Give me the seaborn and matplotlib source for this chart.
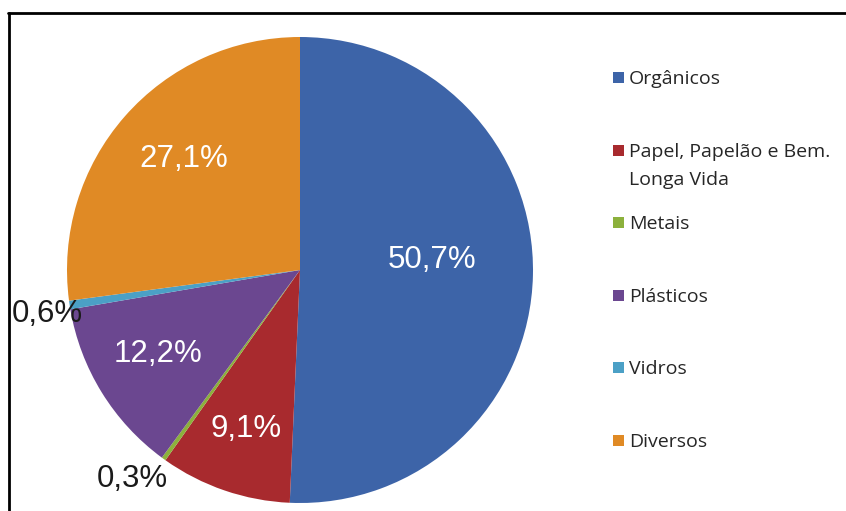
import matplotlib
matplotlib.use("Agg")
import matplotlib.pyplot as plt
import numpy as np
import seaborn as sns
from matplotlib.patches import Rectangle
from matplotlib.lines import Line2D

# Composition of collected waste (share of total, %)
categories = ["Orgânicos", "Papel, Papelão e Bem.\nLonga Vida", "Metais",
              "Plásticos", "Vidros", "Diversos"]
shares = [50.7, 9.1, 0.3, 12.2, 0.6, 27.1]
value_labels = ["50,7%", "9,1%", "0,3%", "12,2%", "0,6%", "27,1%"]

palette = ["#3D64A8", "#A82A2E", "#8CB13C", "#6B4790", "#4BA0C6", "#E08A25"]
label_colors = ["white", "white", "#1a1a1a", "white", "#1a1a1a", "white"]
label_radius = [0.57, 0.72, 1.15, 0.71, 1.10, 0.69]
label_shift = [5.6, 0.0, -3.0, -1.0, 1.3, -2.3]

sns.set_theme(style="white")
plt.rcParams["font.family"] = ["Liberation Sans", "DejaVu Sans"]

W, H = 846, 511
fig = plt.figure(figsize=(W / 100, H / 100), dpi=100)
fig.patch.set_facecolor("white")

# pie placed by pixel centre and radius
cx, cy, r = 300, 270, 233
ax = fig.add_axes([(cx - r) / W, (H - cy - r) / H, 2 * r / W, 2 * r / H])
wedges, _ = ax.pie(shares, colors=palette, startangle=90, counterclock=False,
                   radius=1, wedgeprops=dict(linewidth=0))
ax.set_xlim(-1, 1)
ax.set_ylim(-1, 1)
ax.set_aspect("equal")
ax.axis("off")

for w, txt, col, rr, sh in zip(wedges, value_labels, label_colors,
                               label_radius, label_shift):
    mid = np.deg2rad((w.theta1 + w.theta2) / 2 + sh)
    ax.text(rr * np.cos(mid), rr * np.sin(mid), txt, color=col,
            fontsize=22.5, ha="center", va="center", clip_on=False)

# legend entries, evenly spaced; wrapped names continue one line lower
leg_font = ["Open Sans", "DejaVu Sans"]
for i, (cat, col) in enumerate(zip(categories, palette)):
    yc = 78 + 72.4 * i
    fig.add_artist(Rectangle((613 / W, 1 - (yc + 5.5) / H), 11 / W, 11 / H,
                             transform=fig.transFigure, facecolor=col,
                             edgecolor="none"))
    for k, line in enumerate(cat.split("\n")):
        fig.text(629 / W, 1 - (yc + 6.5 + 28 * k) / H, line, family=leg_font,
                 fontsize=14, color="#262626", ha="left", va="baseline")

# outer frame (top and left edges)
fig.add_artist(Line2D([8 / W, 1], [1 - 13 / H] * 2, transform=fig.transFigure,
                      color="black", lw=2))
fig.add_artist(Line2D([9 / W] * 2, [0, 1 - 13 / H], transform=fig.transFigure,
                      color="black", lw=2))

fig.savefig("out.png", dpi=100, facecolor="white")
